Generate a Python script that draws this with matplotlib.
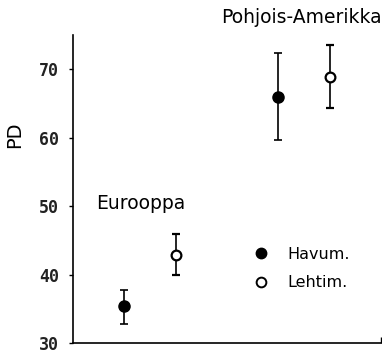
import matplotlib
matplotlib.use('Agg')
import matplotlib.pyplot as plt
from matplotlib.lines import Line2D

# x positions of the groups (Eurooppa, Pohjois-Amerikka)
pos_havu = [1, 4]
pos_lehti = [2, 5]

# PD values and error bar ends
havu_pd = [35.4, 65.9]
havu_low = [32.8, 59.7]
havu_high = [37.7, 72.3]

lehti_pd = [42.9, 68.9]
lehti_low = [39.9, 64.4]
lehti_high = [45.9, 73.6]

yticks = [30, 40, 50, 60, 70]

fig = plt.figure(figsize=(3.82, 3.53), dpi=100)
ax = fig.add_axes([0.191, 0.028, 0.806, 0.873])

err_h = [[v - lo for v, lo in zip(havu_pd, havu_low)],
         [hi - v for v, hi in zip(havu_pd, havu_high)]]
err_l = [[v - lo for v, lo in zip(lehti_pd, lehti_low)],
         [hi - v for v, hi in zip(lehti_pd, lehti_high)]]

ax.errorbar(pos_havu, havu_pd, yerr=err_h, fmt='o', color='black',
            ms=8, capsize=3, elinewidth=1.2, capthick=1.2)
ax.errorbar(pos_lehti, lehti_pd, yerr=err_l, fmt='o', color='black',
            mfc='white', mec='black', mew=1.6, ms=7, capsize=3,
            elinewidth=1.2, capthick=1.2)

ax.set_xlim(0, 6)
ax.set_ylim(30, 75)
ax.set_yticks(yticks)
ax.set_yticklabels([str(t) for t in yticks], family='DejaVu Sans Mono',
                   fontweight='bold', fontsize=12, color='#222222')
ax.set_xticks([6])
ax.set_xticklabels([''])
ax.tick_params(axis='x', direction='in', length=4, width=1)
ax.tick_params(axis='y', direction='out', length=3, width=1, pad=7)

ax.spines['top'].set_visible(False)
ax.spines['right'].set_visible(False)
ax.spines['left'].set_linewidth(1.2)
ax.spines['bottom'].set_linewidth(1.2)

ax.set_ylabel('PD', fontsize=14)
ax.yaxis.set_label_coords(-0.16, 0.675)

ax.text(0.45, 50.4, 'Eurooppa', fontsize=13.5, ha='left', va='center')
ax.text(6.02, 77.5, 'Pohjois-Amerikka', fontsize=13.5, ha='right',
        va='center', clip_on=False)

handles = [Line2D([], [], marker='o', ls='none', color='black', ms=7.5),
           Line2D([], [], marker='o', ls='none', mfc='white', mec='black',
                  mew=1.4, ms=7)]
ax.legend(handles, ['Havum.', 'Lehtim.'], loc='upper left',
          bbox_to_anchor=(0.537, 0.36), frameon=False, fontsize=11.5,
          handletextpad=1.15, labelspacing=0.85, handlelength=1.0)

fig.savefig('out.png', dpi=100)
